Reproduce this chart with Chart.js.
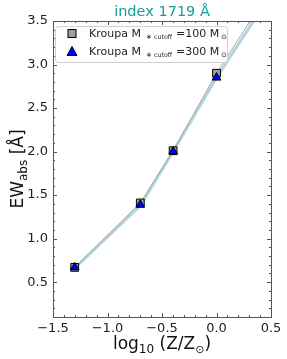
<!DOCTYPE html>
<html><head><meta charset="utf-8">
<script src="https://cdn.jsdelivr.net/npm/chart.js@4"></script>
<style>html,body{margin:0;padding:0;background:#fff}#wrap{width:287px;height:359px}</style>
</head><body><div id="wrap"><canvas id="c" width="287" height="359"></canvas></div>
<script>
const logZ = [-1.301, -0.699, -0.398, 0.0];
const ewKroupa100 = [0.67, 1.41, 2.01, 2.90];
const ewKroupa300 = [0.67, 1.39, 2.00, 2.85];
const lineX = [-1.301, -0.699, -0.398, 0.0, 0.35];
const lineGray = [0.67, 1.41, 2.01, 2.90, 3.58];
const lineBlue = [0.66, 1.38, 2.00, 2.85, 3.52];
const yTicks = [0.5, 1.0, 1.5, 2.0, 2.5, 3.0, 3.5];
const xTicks = [-1.5, -1.0, -0.5, 0.0, 0.5];
const titleText = 'index 1719 Å';
const legendMasses = ['100', '300'];

const pts = (xs, ys) => xs.map((x, i) => ({x, y: ys[i]}));
const FONT = "'DejaVu Sans', sans-serif";
const fmt = v => { const s = Math.abs(v).toFixed(1); return v < 0 ? '\u2212' + s : s; };

function drawParts(ctx, parts, x, y) {
  for (const [t, s, dy] of parts) {
    ctx.font = s + 'px ' + FONT;
    ctx.fillText(t, x, y + dy);
    x += ctx.measureText(t).width;
  }
  return x;
}
function partsWidth(ctx, parts) {
  let w = 0;
  for (const [t, s] of parts) { ctx.font = s + 'px ' + FONT; w += ctx.measureText(t).width; }
  return w;
}

const deco = {
  id: 'deco',
  afterDraw(chart) {
    const ctx = chart.ctx, a = chart.chartArea;
    const xs = chart.scales.x, ys = chart.scales.y;
    ctx.save();
    ctx.strokeStyle = '#555'; ctx.lineWidth = 1;
    ctx.strokeRect(Math.round(a.left) + 0.5, Math.round(a.top) + 0.5, Math.round(a.right - a.left), Math.round(a.bottom - a.top));
    ctx.beginPath();
    for (let i = -15; i <= 5; i++) {
      const v = i / 10; const px = Math.round(xs.getPixelForValue(v)) + 0.5;
      const L = (i % 5 === 0) ? 4 : 2;
      ctx.moveTo(px, a.bottom); ctx.lineTo(px, a.bottom - L);
      ctx.moveTo(px, a.top); ctx.lineTo(px, a.top + L);
    }
    for (let i = 1; i <= 35; i++) {
      const v = i / 10; const py = Math.round(ys.getPixelForValue(v)) + 0.5;
      const L = (i % 5 === 0) ? 4 : 2;
      ctx.moveTo(a.left, py); ctx.lineTo(a.left + L, py);
      ctx.moveTo(a.right, py); ctx.lineTo(a.right - L, py);
    }
    ctx.stroke();
    // title
    ctx.fillStyle = '#189b9b'; ctx.textAlign = 'center'; ctx.textBaseline = 'middle';
    ctx.font = '14.5px ' + FONT;
    ctx.fillText(titleText, (a.left + a.right) / 2, 12);
    // x title
    ctx.fillStyle = '#111'; ctx.textAlign = 'left'; ctx.textBaseline = 'alphabetic';
    const xp = [['log', 17, 0], ['10', 12, 4], [' (Z/Z', 17, 0], ['\u2299', 11, 4], [')', 17, 0]];
    drawParts(ctx, xp, (a.left + a.right) / 2 - partsWidth(ctx, xp) / 2, 349);
    // y title
    ctx.save();
    ctx.translate(23, (a.top + a.bottom) / 2); ctx.rotate(-Math.PI / 2);
    const yp = [['EW', 17, 0], ['abs', 12, 4], [' [Å]', 17, 0]];
    drawParts(ctx, yp, -partsWidth(ctx, yp) / 2, 0);
    ctx.restore();
    // legend
    const bx = 55.5, by = 26.5, bw = 172, bh = 36;
    ctx.fillStyle = 'rgba(255,255,255,0.85)'; ctx.strokeStyle = '#d0d0d0';
    ctx.beginPath(); ctx.roundRect(bx, by, bw, bh, 3); ctx.fill(); ctx.stroke();
    const markers = [
      (cx, cy) => { ctx.fillStyle = '#a0a0a0'; ctx.strokeStyle = '#000'; ctx.fillRect(cx - 4, cy - 4, 8, 8); ctx.strokeRect(cx - 4, cy - 4, 8, 8); },
      (cx, cy) => { ctx.fillStyle = '#0000ff'; ctx.strokeStyle = '#000'; ctx.beginPath(); ctx.moveTo(cx, cy - 5); ctx.lineTo(cx + 5, cy + 4); ctx.lineTo(cx - 5, cy + 4); ctx.closePath(); ctx.fill(); ctx.stroke(); }
    ];
    const rowY = [37, 55];
    legendMasses.forEach((m, i) => {
      const by0 = rowY[i];
      markers[i](72, by0 - 3.5);
      ctx.fillStyle = '#222'; ctx.textBaseline = 'alphabetic'; ctx.textAlign = 'left';
      ctx.font = '11px ' + FONT; ctx.fillText('Kroupa M', 89, by0);
      ctx.font = '7px ' + FONT; ctx.fillText('\u2217', 146, by0 + 2);
      ctx.font = '6.3px ' + FONT; ctx.fillText('cutoff', 154, by0 + 2);
      ctx.font = '11px ' + FONT; ctx.fillText('=' + m + ' M', 176, by0);
      ctx.font = '7px ' + FONT; ctx.fillText('\u2299', 221, by0 + 2);
    });
    ctx.restore();
  }
};

new Chart(document.getElementById('c'), {
  type: 'scatter',
  data: {
    datasets: [
      {label: 'Kroupa 300', data: pts(logZ, ewKroupa300), pointStyle: 'triangle', pointRadius: 5, backgroundColor: '#0000ff', borderColor: '#000', borderWidth: 1, order: 0},
      {label: 'Kroupa 100', data: pts(logZ, ewKroupa100), pointStyle: 'rect', pointRadius: 5.5, backgroundColor: '#a0a0a0', borderColor: '#000', borderWidth: 1, order: 1},
      {label: 'gray', data: pts(lineX, lineGray), showLine: true, pointRadius: 0, borderColor: '#a8a8a8', borderWidth: 1, order: 2},
      {label: 'blue', data: pts(lineX, lineBlue), showLine: true, pointRadius: 0, borderColor: '#b3d3e0', borderWidth: 3, order: 3}
    ]
  },
  options: {
    responsive: false, animation: false, devicePixelRatio: 1,
    layout: {padding: {left: 0, right: 16, top: 21, bottom: 0}},
    plugins: {legend: {display: false}, title: {display: false}, tooltip: {enabled: false}},
    scales: {
      x: {type: 'linear', min: -1.5, max: 0.5,
        grid: {display: false, drawTicks: false}, border: {display: false},
        afterBuildTicks: s => { s.ticks = xTicks.map(v => ({value: v})); },
        afterFit: s => { s.height = 42; },
        ticks: {font: {family: FONT, size: 13}, color: '#222', padding: 4, maxRotation: 0, callback: v => fmt(v)}},
      y: {type: 'linear', min: 0.1, max: 3.5,
        grid: {display: false, drawTicks: false}, border: {display: false},
        afterBuildTicks: s => { s.ticks = yTicks.map(v => ({value: v})); },
        afterFit: s => { s.width = 53; },
        ticks: {font: {family: FONT, size: 13}, color: '#222', padding: 5, callback: v => fmt(v)}}
    }
  },
  plugins: [deco]
});
</script></body></html>
